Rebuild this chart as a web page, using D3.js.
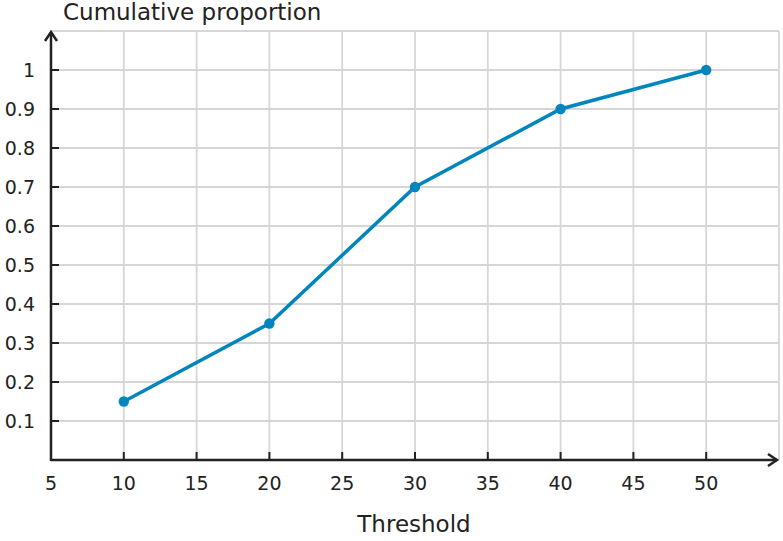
<!DOCTYPE html>
<html><head><meta charset="utf-8">
<script src="https://cdn.jsdelivr.net/npm/d3@7"></script>
<style>body{margin:0;background:#fff}svg{display:block}text{font-family:"DejaVu Sans",sans-serif;fill:#222}</style>
</head><body><svg id="c" width="783" height="541"></svg>
<script>
const thresholds = [10, 20, 30, 40, 50];
const proportions = [0.15, 0.35, 0.7, 0.9, 1.0];
const xTicks = [5, 10, 15, 20, 25, 30, 35, 40, 45, 50];
const yTicks = [0.1, 0.2, 0.3, 0.4, 0.5, 0.6, 0.7, 0.8, 0.9, 1];
const xGrid = [10, 15, 20, 25, 30, 35, 40, 45, 50, 55];
const yGrid = [0.1, 0.2, 0.3, 0.4, 0.5, 0.6, 0.7, 0.8, 0.9, 1, 1.1];

const svg = d3.select("#c");
const x = d3.scaleLinear().domain([5, 55]).range([51, 779]);
const y = d3.scaleLinear().domain([0, 1.1]).range([460, 31]);
const ink = "#222";

const g = svg.append("g");
g.selectAll("line.gx").data(xGrid).join("line")
  .attr("x1", d => x(d)).attr("x2", d => x(d)).attr("y1", y(0)).attr("y2", y(1.1))
  .attr("stroke", "#d6d6d6").attr("stroke-width", 1.8);
g.selectAll("line.gy").data(yGrid).join("line")
  .attr("x1", x(5)).attr("x2", x(55)).attr("y1", d => y(d)).attr("y2", d => y(d))
  .attr("stroke", "#d6d6d6").attr("stroke-width", 1.8);

// ticks
g.selectAll("line.tx").data(xTicks.filter(d => d > 5)).join("line")
  .attr("x1", d => x(d)).attr("x2", d => x(d)).attr("y1", y(0)).attr("y2", y(0) - 8)
  .attr("stroke", ink).attr("stroke-width", 2);
g.selectAll("line.ty").data(yTicks).join("line")
  .attr("x1", x(5)).attr("x2", x(5) + 8).attr("y1", d => y(d)).attr("y2", d => y(d))
  .attr("stroke", ink).attr("stroke-width", 2);

// axes
g.append("line").attr("x1", x(5)).attr("x2", x(55) - 2).attr("y1", y(0)).attr("y2", y(0))
  .attr("stroke", ink).attr("stroke-width", 2.5);
g.append("line").attr("x1", x(5)).attr("x2", x(5)).attr("y1", y(0) + 1).attr("y2", y(1.1) + 2)
  .attr("stroke", ink).attr("stroke-width", 2.5);
const ax = x(55) - 2, ay = y(0);
g.append("path").attr("d", `M${ax-9},${ay-6}L${ax},${ay}L${ax-9},${ay+6}`)
  .attr("fill", "none").attr("stroke", ink).attr("stroke-width", 2.5);
const bx = x(5), by = y(1.1) + 1;
g.append("path").attr("d", `M${bx-6},${by+9}L${bx},${by}L${bx+6},${by+9}`)
  .attr("fill", "none").attr("stroke", ink).attr("stroke-width", 2.5);

// tick labels
g.selectAll("text.xl").data(xTicks).join("text")
  .attr("x", d => x(d)).attr("y", y(0) + 30).attr("text-anchor", "middle")
  .attr("font-size", 19).text(d => d);
g.selectAll("text.yl").data(yTicks).join("text")
  .attr("x", 35).attr("y", d => y(d) + 7).attr("text-anchor", "end")
  .attr("font-size", 19).text(d => d);

svg.append("text").attr("x", 63).attr("y", 20).attr("font-size", 23).text("Cumulative proportion");
svg.append("text").attr("x", 414).attr("y", 532).attr("text-anchor", "middle").attr("font-size", 23).text("Threshold");

// data
const color = "#0086bd";
g.append("path").datum(thresholds.map((t, i) => [t, proportions[i]]))
  .attr("d", d3.line().x(d => x(d[0])).y(d => y(d[1])))
  .attr("fill", "none").attr("stroke", color).attr("stroke-width", 3.5);
g.selectAll("circle").data(thresholds).join("circle")
  .attr("cx", d => x(d)).attr("cy", (d, i) => y(proportions[i])).attr("r", 5.2).attr("fill", color);
</script></body></html>
